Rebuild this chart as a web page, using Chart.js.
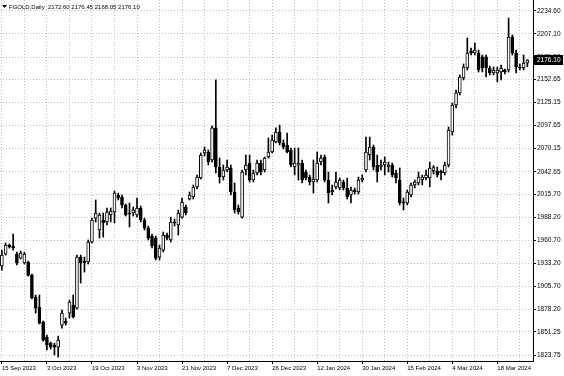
<!DOCTYPE html>
<html>
<head>
<meta charset="utf-8">
<script src="https://cdn.jsdelivr.net/npm/chart.js@4.4.1/dist/chart.umd.min.js"></script>
<style>
    html, body { margin: 0; padding: 0; background: #fff; }
</style>
</head>
<body>
<canvas id="myChart" width="564" height="376"></canvas>
<script>

const symbol = 'FGOLD';
const period = 'Daily';

const dateTicks = ['15 Sep 2023', '3 Oct 2023', '19 Oct 2023', '3 Nov 2023', '21 Nov 2023', '7 Dec 2023',
    '26 Dec 2023', '12 Jan 2024', '30 Jan 2024', '15 Feb 2024', '4 Mar 2024', '18 Mar 2024'];
const tickEvery = 12;
const gridEvery = 6;

const priceTicks = [2234.60, 2207.10, 2179.55, 2152.65, 2125.15, 2097.65, 2070.15, 2042.65,
    2015.70, 1988.20, 1960.70, 1933.20, 1905.70, 1878.20, 1851.25, 1823.75];
const yMin = 1816.6;
const yMax = 2247.7;

const opens = [
    1930.0, 1944.3, 1955.1, 1953.9, 1944.3, 1939.5, 1933.6, 1934.8, 1919.2, 1893.0,
    1881.0, 1863.1, 1845.2, 1838.0, 1835.6, 1833.2, 1859.5, 1864.3, 1873.8, 1883.4,
    1879.8, 1940.7, 1935.5, 1934.8, 1958.7, 1987.3, 1973.0, 1985.0, 1982.6, 1990.9,
    1994.5, 2014.8, 2012.4, 2002.9, 1993.3, 1993.3, 1990.9, 1999.3, 1985.0, 1975.4,
    1965.8, 1963.4, 1940.7, 1949.1, 1967.0, 1961.1, 1982.6, 1979.0, 1988.5, 2000.5,
    2010.0, 2012.4, 2024.4, 2035.1, 2065.0, 2066.2, 2056.6, 2094.9, 2048.3, 2036.3,
    2044.7, 2047.1, 2018.4, 1999.3, 1988.5, 2044.7, 2053.0, 2032.7, 2041.1, 2053.0,
    2044.7, 2060.2, 2066.2, 2078.1, 2090.1, 2076.9, 2074.5, 2068.6, 2048.3, 2050.7,
    2053.0, 2042.3, 2036.3, 2030.4, 2032.7, 2054.2, 2060.2, 2032.7, 2020.8, 2024.4,
    2023.2, 2030.4, 2023.2, 2014.8, 2020.8, 2018.4, 2032.7, 2044.7, 2062.6, 2072.2,
    2050.7, 2048.3, 2050.7, 2048.3, 2050.7, 2041.1, 2032.7, 2006.8, 2005.3, 2014.8,
    2026.8, 2029.2, 2032.7, 2035.1, 2035.1, 2044.0, 2043.5, 2043.5, 2041.1, 2050.7,
    2090.1, 2122.3, 2136.7, 2154.6, 2166.5, 2187.0, 2184.4, 2184.4, 2179.7, 2179.7,
    2166.5, 2160.6, 2160.6, 2161.7, 2164.1, 2164.1, 2203.5, 2184.4, 2167.7, 2166.5,
    2172.60
];

const highs = [
    1949.1, 1957.5, 1956.3, 1968.2, 1946.7, 1947.9, 1946.7, 1936.0, 1920.4, 1895.4,
    1895.4, 1864.3, 1847.6, 1839.2, 1838.0, 1846.4, 1877.4, 1867.9, 1889.4, 1895.4,
    1943.1, 1943.1, 1940.7, 1961.1, 1987.3, 2008.9, 1993.3, 1993.3, 1999.3, 1999.3,
    2019.6, 2017.2, 2014.8, 2004.1, 2005.3, 2000.5, 2011.2, 2001.7, 1987.3, 1977.8,
    1968.2, 1965.8, 1955.1, 1970.6, 1969.4, 1988.5, 1986.1, 1996.9, 2011.2, 2002.9,
    2018.4, 2026.8, 2038.7, 2065.0, 2072.2, 2068.6, 2097.2, 2152.2, 2059.0, 2050.7,
    2056.6, 2050.7, 2029.2, 2002.9, 2044.7, 2062.6, 2062.6, 2044.7, 2056.6, 2056.6,
    2060.2, 2082.9, 2086.5, 2094.9, 2098.4, 2080.5, 2088.9, 2071.0, 2071.0, 2071.0,
    2056.6, 2044.7, 2038.7, 2056.6, 2066.2, 2062.6, 2062.6, 2042.3, 2026.8, 2042.3,
    2035.1, 2032.7, 2035.1, 2024.4, 2023.2, 2036.3, 2038.7, 2084.1, 2084.1, 2074.5,
    2062.6, 2056.6, 2060.2, 2054.2, 2053.0, 2044.7, 2047.1, 2011.2, 2020.8, 2029.2,
    2032.7, 2042.3, 2038.7, 2044.7, 2054.2, 2050.0, 2048.3, 2044.7, 2054.2, 2096.0,
    2124.7, 2140.2, 2158.2, 2171.3, 2202.4, 2190.4, 2196.4, 2188.0, 2182.0, 2182.0,
    2168.9, 2167.7, 2167.7, 2170.1, 2165.3, 2226.2, 2205.9, 2188.0, 2171.3, 2182.0,
    2176.45
];

const lows = [
    1925.2, 1943.1, 1951.5, 1949.1, 1931.2, 1938.4, 1932.4, 1918.0, 1890.6, 1873.8,
    1860.7, 1840.4, 1829.7, 1830.8, 1823.7, 1821.3, 1855.9, 1859.5, 1867.9, 1867.9,
    1878.6, 1909.7, 1922.8, 1932.4, 1957.5, 1982.6, 1963.4, 1964.6, 1979.0, 1982.6,
    1981.4, 2008.9, 1999.3, 1989.7, 1976.6, 1989.7, 1988.5, 1982.6, 1973.0, 1961.1,
    1951.5, 1937.2, 1937.2, 1946.7, 1961.1, 1958.7, 1977.8, 1967.0, 1987.3, 1990.9,
    2008.9, 2010.0, 2022.0, 2033.9, 2061.4, 2050.7, 2054.2, 2041.1, 2029.2, 2032.7,
    2042.3, 2014.8, 1993.3, 1992.1, 1987.3, 2038.7, 2030.4, 2030.4, 2038.7, 2038.7,
    2042.3, 2059.0, 2065.0, 2076.9, 2074.5, 2069.8, 2065.0, 2048.3, 2038.7, 2032.7,
    2029.2, 2032.7, 2026.8, 2017.2, 2030.4, 2050.7, 2030.4, 2005.3, 2015.0, 2022.0,
    2020.8, 2020.8, 2010.0, 2005.3, 2016.0, 2016.0, 2030.4, 2042.3, 2056.6, 2044.7,
    2030.4, 2044.7, 2038.7, 2042.3, 2036.3, 2029.2, 2002.9, 1996.9, 2002.9, 2012.4,
    2023.2, 2026.8, 2026.8, 2032.7, 2024.4, 2040.0, 2036.3, 2032.7, 2038.7, 2048.3,
    2086.5, 2118.7, 2134.3, 2152.2, 2164.1, 2182.0, 2182.0, 2161.7, 2161.7, 2155.8,
    2158.2, 2158.2, 2149.8, 2152.2, 2159.4, 2161.7, 2182.0, 2160.6, 2164.1, 2164.1,
    2168.05
];

const closes = [
    1943.1, 1955.1, 1952.7, 1951.5, 1933.6, 1945.5, 1944.3, 1919.2, 1891.8, 1879.8,
    1861.9, 1841.6, 1835.6, 1833.2, 1833.2, 1841.6, 1873.8, 1861.9, 1887.0, 1869.1,
    1940.7, 1933.6, 1933.6, 1958.7, 1985.0, 1993.3, 1990.9, 1981.4, 1994.5, 1995.7,
    2017.2, 2011.2, 2002.9, 1990.9, 1992.1, 1996.9, 1999.3, 1985.0, 1975.4, 1963.4,
    1953.9, 1939.5, 1951.5, 1967.0, 1963.4, 1982.6, 1981.4, 1993.3, 2006.5, 1993.3,
    2014.8, 2024.4, 2036.3, 2062.6, 2068.6, 2054.2, 2094.9, 2048.3, 2036.3, 2044.7,
    2048.3, 2018.4, 1996.9, 1994.5, 2042.3, 2050.7, 2032.7, 2041.1, 2053.0, 2042.3,
    2059.0, 2066.2, 2080.5, 2090.1, 2076.9, 2072.2, 2066.2, 2050.7, 2053.0, 2052.5,
    2032.7, 2035.1, 2030.4, 2033.9, 2053.0, 2059.0, 2032.7, 2017.2, 2018.4, 2030.4,
    2032.7, 2023.2, 2012.4, 2020.8, 2018.4, 2032.7, 2035.1, 2066.2, 2072.2, 2048.3,
    2042.3, 2050.7, 2054.2, 2050.7, 2038.7, 2035.1, 2005.3, 2005.0, 2018.4, 2026.8,
    2030.4, 2036.3, 2036.3, 2038.7, 2047.1, 2047.5, 2038.7, 2041.1, 2050.7, 2092.5,
    2122.3, 2136.7, 2155.8, 2167.7, 2184.4, 2184.4, 2188.0, 2164.1, 2166.5, 2166.5,
    2160.6, 2164.1, 2164.1, 2166.5, 2161.7, 2203.5, 2184.4, 2167.7, 2166.5, 2172.5,
    2176.10
];

// one spare slot on the right so the last candle sits off the price scale
const labels = [];
for (let i = 0; i <= opens.length; i++) {
    const k = i / tickEvery;
    labels.push(i % tickEvery === 0 && dateTicks[k] ? dateTicks[k] : '');
}

const wicks = lows.map((l, i) => [l, highs[i]]);
const bodies = opens.map((o, i) => [o, closes[i]]);
const bodyColors = opens.map((o, i) => closes[i] >= o ? '#ffffff' : '#000000');

const gridColor = '#c4c4c4';
const fontFamily = '"Liberation Sans", Arial, sans-serif';

const hasLabel = (ctx) => ctx.tick && ctx.tick.label;
const onGrid = (ctx) => ctx.index % gridEvery === 0 && ctx.index < opens.length;

const overlay = {
    id: 'overlay',
    afterDraw(chart) {
        const {ctx, chartArea, scales: {y}} = chart;
        const n = closes.length - 1;
        ctx.save();
        // header
        ctx.fillStyle = '#000';
        ctx.beginPath();
        ctx.moveTo(2, 5);
        ctx.lineTo(7, 5);
        ctx.lineTo(4.5, 8);
        ctx.closePath();
        ctx.fill();
        ctx.font = '6px ' + fontFamily;
        ctx.textBaseline = 'middle';
        ctx.textAlign = 'left';
        const head = symbol + ',' + period + '  ' + opens[n].toFixed(2) + ' ' + highs[n].toFixed(2) + ' ' +
            lows[n].toFixed(2) + ' ' + closes[n].toFixed(2);
        ctx.fillText(head, 9, 7);
        // last price tag
        const py = Math.round(y.getPixelForValue(closes[n]));
        ctx.fillStyle = '#000';
        ctx.fillRect(chartArea.right, py - 5, 30, 10);
        ctx.fillStyle = '#fff';
        ctx.font = '6.5px ' + fontFamily;
        ctx.fillText(closes[n].toFixed(2), chartArea.right + 4, py);
        ctx.restore();
    }
};

const config = {
    type: 'bar',
    data: {
        labels,
        datasets: [{
            label: 'wick',
            data: wicks,
            backgroundColor: '#000000',
            borderWidth: 0,
            barThickness: 1,
            grouped: false,
            order: 2
        }, {
            label: 'body',
            data: bodies,
            backgroundColor: bodyColors,
            borderColor: '#000000',
            borderWidth: 1,
            borderSkipped: false,
            barThickness: 3,
            grouped: false,
            order: 1
        }]
    },
    options: {
        responsive: false,
        animation: false,
        events: [],
        layout: { padding: 0 },
        scales: {
            x: {
                offset: true,
                grid: {
                    offset: false,
                    color: (ctx) => onGrid(ctx) ? gridColor : 'rgba(0,0,0,0)',
                    tickColor: (ctx) => hasLabel(ctx) ? '#000' : 'rgba(0,0,0,0)',
                    tickLength: 3
                },
                border: { color: '#000', dash: [1, 2] },
                ticks: {
                    autoSkip: false,
                    maxRotation: 0,
                    minRotation: 0,
                    align: 'start',
                    padding: 1,
                    color: '#000',
                    font: { family: fontFamily, size: 6 }
                },
                afterFit: (scale) => {
                    scale.height = 15;
                    scale.paddingLeft = 0;
                    scale.paddingRight = 0;
                }
            },
            y: {
                position: 'right',
                min: yMin,
                max: yMax,
                afterBuildTicks: (scale) => { scale.ticks = priceTicks.map(v => ({ value: v })); },
                grid: { color: gridColor, tickColor: '#000', tickLength: 3 },
                border: { color: '#000', dash: [1, 2] },
                ticks: {
                    padding: 1,
                    color: '#000',
                    font: { family: fontFamily, size: 6.5 },
                    callback: (v) => Number(v).toFixed(2)
                },
                afterFit: (scale) => {
                    scale.width = 31;
                    scale.paddingTop = 0;
                    scale.paddingBottom = 0;
                }
            }
        },
        plugins: {
            legend: { display: false },
            tooltip: { enabled: false }
        }
    },
    plugins: [overlay]
};

const myChart = new Chart(
    document.getElementById('myChart').getContext('2d'),
    config
);
</script>
</body>
</html>
